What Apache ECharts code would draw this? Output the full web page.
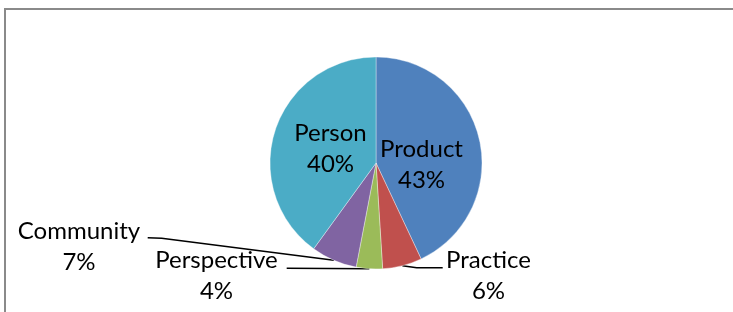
<!DOCTYPE html>
<html><head><meta charset="utf-8">
<script src="https://cdn.jsdelivr.net/npm/echarts@6/dist/echarts.min.js"></script>
<style>html,body{margin:0;padding:0;background:#fff}#c{width:733px;height:312px}</style>
</head><body><div id="c"></div>
<script>
const categories = ['Product', 'Practice', 'Perspective', 'Community', 'Person'];
const values = [43, 6, 4, 7, 40];
const colors = ['#4F81BD', '#C0504D', '#9BBB59', '#8064A2', '#4BACC6'];
const insideLabels = ['Product', 'Person'];

// label placement (layout only)
const labelPlace = {
  Product:     { x: 421.5, y: 164.5 },
  Person:      { x: 330.5, y: 148.5 },
  Community:   { x: 79,    y: 246.5, bend: [161.7, 238.3], end: [147.7, 237.7] },
  Perspective: { x: 216.5, y: 276,   bend: [286.7, 268.3], end: [286.7, 268.3] },
  Practice:    { x: 488.5, y: 276,   bend: [416.7, 267.7], end: [442.7, 267.7] }
};

const FONT = 'Lato';
const chart = echarts.init(document.getElementById('c'), null, { renderer: 'canvas' });
chart.setOption({
  animation: false,
  backgroundColor: '#fff',
  graphic: [{
    type: 'rect',
    shape: { x: 5, y: 9, width: 900, height: 500 },
    style: { fill: 'none', stroke: '#8a8a8a', lineWidth: 2 },
    silent: true
  }],
  series: [{
    type: 'pie',
    center: [376, 163],
    radius: 106,
    startAngle: 90,
    clockwise: true,
    percentPrecision: 0,
    avoidLabelOverlap: false,
    emphasis: { disabled: true },
    itemStyle: { borderColor: 'rgba(255,255,255,0.6)', borderWidth: 0.6 },
    label: {
      formatter: '{b}\n{d}%',
      fontFamily: FONT,
      fontSize: 24,
      lineHeight: 31,
      color: '#000',
      align: 'center'
    },
    labelLine: {
      show: true,
      length: 10,
      length2: 10,
      lineStyle: { color: '#000', width: 1.5 }
    },
    labelLayout: function (params) {
      const name = categories[params.dataIndex];
      const p = labelPlace[name];
      const out = { x: p.x, y: p.y, align: 'center', verticalAlign: 'middle' };
      if (p.end && params.labelLinePoints) {
        out.labelLinePoints = [params.labelLinePoints[0], p.bend, p.end];
      }
      return out;
    },
    data: categories.map((name, i) => {
      const inside = insideLabels.indexOf(name) >= 0;
      return {
        name: name,
        value: values[i],
        itemStyle: { color: colors[i] },
        label: { position: inside ? 'inside' : 'outside' },
        labelLine: { show: !inside }
      };
    })
  }]
});
</script>
</body></html>
